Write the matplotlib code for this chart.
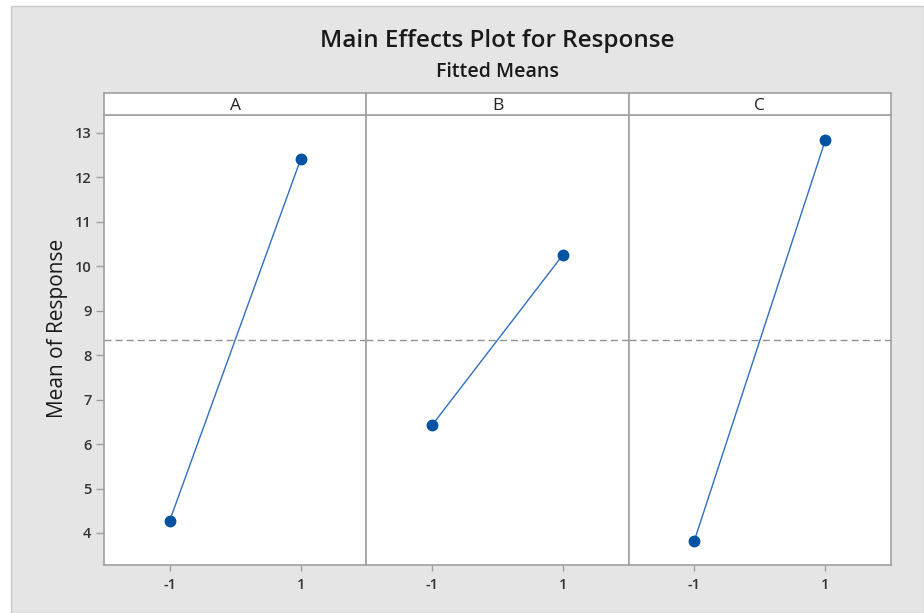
import matplotlib
matplotlib.use("Agg")
import matplotlib.pyplot as plt
from matplotlib.patches import Rectangle

factors = ["A", "B", "C"]
levels = [-1, 1]
level_labels = ["-1", "1"]
means = {
    "A": [4.27, 12.41],
    "B": [6.42, 10.26],
    "C": [3.82, 12.84],
}
grand_mean = 8.34
y_ticks = [4, 5, 6, 7, 8, 9, 10, 11, 12, 13]

plt.rcParams['font.family'] = ['Open Sans', 'DejaVu Sans']

W, H = 924, 613
fig = plt.figure(figsize=(W / 100, H / 100), dpi=100, facecolor="white")

# gray background panel with thin border
bg = Rectangle((11 / W, 0), 1 - 11 / W, 1 - 6 / H, transform=fig.transFigure,
               facecolor="#e5e5e5", edgecolor="#c8c8c8", linewidth=1.0, zorder=-10)
fig.patches.append(bg)

left, right = 104 / W, 891 / W
bottom, top = 1 - 565 / H, 1 - 115 / H
head_top = 1 - 93 / H
pw = (right - left) / 3
cx = (left + right) / 2

line_color = "#2f6fc0"
marker_color = "#0052a3"
spine_color = "#a0a0a0"
for i, f in enumerate(factors):
    ax = fig.add_axes([left + i * pw, bottom, pw, top - bottom])
    ax.set_facecolor("white")
    ax.plot(levels, means[f], color=line_color, linewidth=1.0, zorder=3)
    ax.plot(levels, means[f], linestyle="none", marker="o", markersize=7.5,
            color=marker_color, zorder=4)
    ax.axhline(grand_mean, color="#909090", linestyle=(0, (5, 3)), linewidth=1.0, zorder=2)
    ax.set_xlim(-2, 2)
    ax.set_ylim(3.28, 13.40)
    ax.set_xticks(levels)
    ax.set_xticklabels(level_labels)
    ax.set_yticks(y_ticks)
    for s in ax.spines.values():
        s.set_color(spine_color)
        s.set_linewidth(1.2)
    ax.tick_params(axis="x", direction="out", length=4.5, width=1, color=spine_color,
                   labelsize=10.5, labelcolor="#333333", pad=5)
    ax.tick_params(axis="y", direction="out", length=6, width=1, color=spine_color,
                   labelsize=10.5, labelcolor="#333333", pad=3)
    for lab in ax.get_xticklabels() + ax.get_yticklabels():
        lab.set_fontweight("semibold")
    if i > 0:
        ax.tick_params(axis="y", left=False, labelleft=False)
    # header strip
    hax = fig.add_axes([left + i * pw, top, pw, head_top - top])
    hax.set_facecolor("white")
    hax.set_xticks([])
    hax.set_yticks([])
    for s in hax.spines.values():
        s.set_color(spine_color)
        s.set_linewidth(1.2)
    hax.text(0.5, 0.42, f, ha="center", va="center", fontsize=12.5, color="#222222",
             transform=hax.transAxes)

fig.text(cx, 1 - 47 / H, "Main Effects Plot for Response", ha="center", va="baseline",
         fontsize=17.5, fontweight="semibold", color="#1a1a1a")
fig.text(cx, 1 - 77 / H, "Fitted Means", ha="center", va="baseline",
         fontsize=14, fontweight="semibold", color="#1a1a1a")
fig.text(58 / W, 1 - 328 / H, "Mean of Response", ha="center", va="center",
         rotation=90, fontsize=15, color="#1a1a1a")

fig.savefig("out.png", dpi=100, facecolor=fig.get_facecolor())
